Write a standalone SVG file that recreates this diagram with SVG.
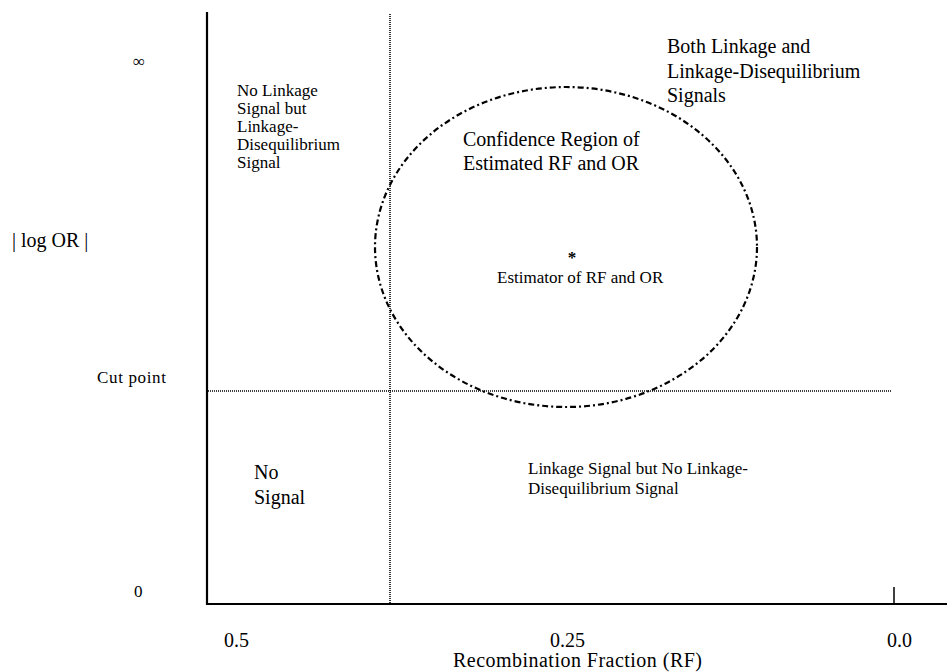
<svg xmlns="http://www.w3.org/2000/svg" width="947" height="672" viewBox="0 0 947 672">
<style>
text{font-family:"Liberation Serif","Times New Roman",serif;fill:#000}
.s{font-size:17px}
.l{font-size:20px}
.axis{stroke:#000;stroke-width:2.2;fill:none}
.dot{stroke:#000;stroke-width:1.6;stroke-dasharray:1 1;fill:none}
.ell{stroke:#000;stroke-width:2.2;stroke-dasharray:6 3 2 3;fill:none}
</style>
<rect width="947" height="672" fill="#fff"/>
<g id="connectors">
<line class="axis" x1="207" y1="12" x2="207" y2="605"/>
<line class="axis" x1="206" y1="604" x2="947" y2="604"/>
<line x1="894" y1="587" x2="894" y2="604" stroke="#000" stroke-width="1.5"/>
<line class="dot" x1="390" y1="14" x2="390" y2="604"/>
<line class="dot" x1="208" y1="391" x2="891" y2="391"/>
</g>
<g id="confidence-region">
<ellipse class="ell" cx="566" cy="247" rx="191" ry="160"/>
<text class="l" x="463" y="146">Confidence Region of</text>
<text class="l" x="463" y="170">Estimated RF and OR</text>
</g>
<g id="estimator">
<text class="s" x="572" y="263" text-anchor="middle" font-weight="bold">*</text>
<text class="s" x="497" y="283">Estimator of RF and OR</text>
</g>
<g id="y-labels">
<text class="s" x="133" y="67">∞</text>
<text class="l" x="12" y="247">| log OR |</text>
<text class="s" x="97" y="383" textLength="69">Cut point</text>
<text class="s" x="134" y="597">0</text>
</g>
<g id="x-labels">
<text class="l" x="224" y="647">0.5</text>
<text class="l" x="550" y="647">0.25</text>
<text class="l" x="887" y="647">0.0</text>
<text class="l" x="453" y="667" textLength="249">Recombination Fraction (RF)</text>
</g>
<g id="region-no-linkage-ld">
<text class="s" x="237" y="96">No Linkage</text>
<text class="s" x="237" y="114">Signal but</text>
<text class="s" x="237" y="132">Linkage-</text>
<text class="s" x="237" y="150">Disequilibrium</text>
<text class="s" x="237" y="168">Signal</text>
</g>
<g id="region-both">
<text class="l" x="667" y="53">Both Linkage and</text>
<text class="l" x="667" y="78">Linkage-Disequilibrium</text>
<text class="l" x="667" y="102">Signals</text>
</g>
<g id="region-no-signal">
<text class="l" x="254" y="479">No</text>
<text class="l" x="254" y="504">Signal</text>
</g>
<g id="region-linkage-no-ld">
<text class="s" x="528" y="474">Linkage Signal but No Linkage-</text>
<text class="s" x="528" y="494">Disequilibrium Signal</text>
</g>
</svg>
